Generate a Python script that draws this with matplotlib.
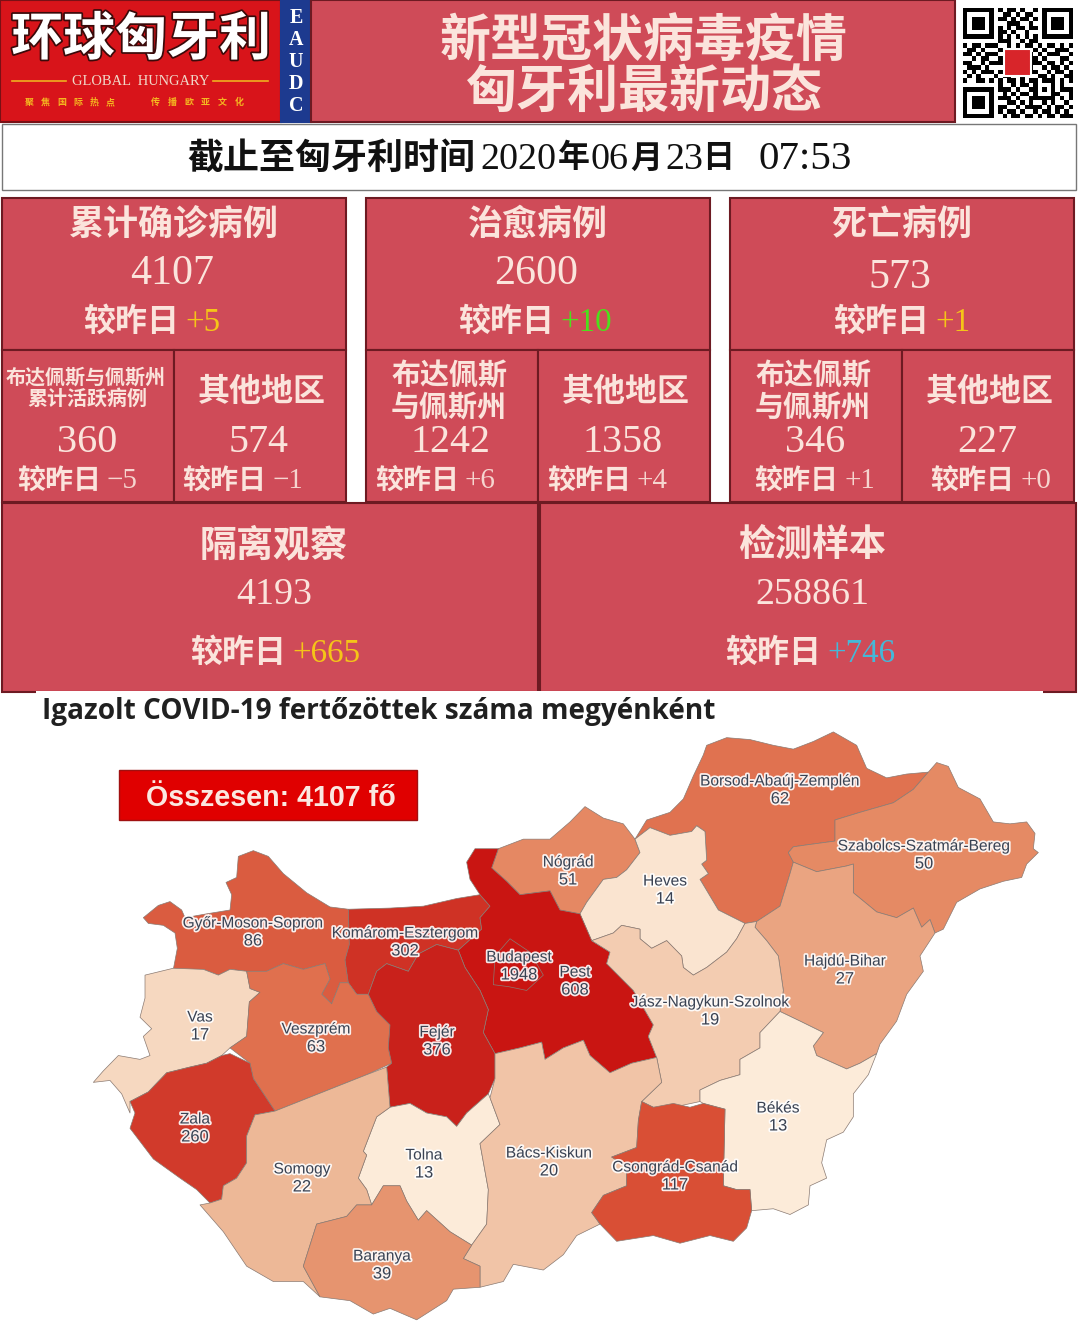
import numpy as np
import matplotlib
matplotlib.use("Agg")
import matplotlib.pyplot as plt
import matplotlib.patheffects as pe
from matplotlib.colors import LinearSegmentedColormap, LogNorm
from matplotlib.patches import Polygon, Rectangle

CJK = ["Noto Sans CJK SC", "DejaVu Sans"]
SERIF = "Liberation Serif"
plt.rcParams["font.family"] = CJK

# numbers on the panels
update_prefix = "截止至匈牙利时间"
update_time = ["2020", "06", "23", "07:53"]
top_titles = ["累计确诊病例", "治愈病例", "死亡病例"]
top_values = ["4107", "2600", "573"]
top_deltas = ["+5", "+10", "+1"]
sub_values = ["360", "574", "1242", "1358", "346", "227"]
sub_deltas = ["−5", "−1", "+6", "+4", "+1", "+0"]
low_titles = ["隔离观察", "检测样本"]
low_values = ["4193", "258861"]
low_deltas = ["+665", "+746"]

# county data
county_names = ["Borsod-Abaúj-Zemplén", "Szabolcs-Szatmár-Bereg", "Nógrád", "Heves",
                "Győr-Moson-Sopron", "Komárom-Esztergom", "Pest", "Budapest",
                "Hajdú-Bihar", "Jász-Nagykun-Szolnok", "Vas", "Veszprém", "Fejér",
                "Zala", "Békés", "Tolna", "Bács-Kiskun", "Somogy", "Csongrád-Csanád",
                "Baranya"]
county_cases = [62, 50, 51, 14, 86, 302, 608, 1948, 27, 19, 17, 63, 376, 260, 13, 13,
                20, 22, 117, 39]

# where the county labels sit (picture pixels)
label_x = [780, 924, 568, 665, 253, 405, 575, 519, 845, 710, 200, 316, 437, 195, 778, 424, 549, 302, 675, 382]
label_y = [779, 844, 860, 879, 921, 931, 970, 955, 959, 1000, 1015, 1027, 1030, 1117, 1106, 1153, 1151, 1167, 1165, 1254]


def z2(pts):
    # traced on the right hand crop, shift into the left crop's frame
    return [(x + 1410, y) for x, y in pts]


# county outlines
outlines = {
    "Győr-Moson-Sopron": [(160, 490), (205, 458), (240, 448), (275, 470), (285, 490), (350, 480), (420, 470), (425, 430), (408, 398), (440, 385), (445, 330), (490, 315), (535, 330), (580, 375), (650, 425), (720, 462), (775, 468), (778, 560), (765, 600), (775, 660), (750, 660), (725, 715), (695, 690), (720, 650), (705, 610), (640, 625), (580, 610), (530, 630), (470, 630), (420, 625), (385, 640), (340, 625), (250, 625), (262, 570), (255, 530), (220, 510), (175, 505)],
    "Vas": [(165, 640), (250, 622), (340, 625), (385, 640), (420, 625), (470, 630), (480, 675), (510, 685), (478, 710), (470, 800), (420, 830), (395, 850), (350, 870), (300, 880), (230, 895), (175, 945), (120, 970), (120, 1000), (95, 950), (60, 915), (10, 920), (40, 890), (85, 850), (150, 860), (180, 850), (160, 800), (185, 780), (150, 750), (165, 700)],
    "Zala": [(120, 970), (175, 945), (230, 895), (300, 880), (350, 870), (395, 850), (420, 845), (480, 870), (490, 910), (555, 995), (495, 1005), (470, 1060), (470, 1130), (440, 1170), (400, 1190), (395, 1225), (360, 1235), (320, 1200), (270, 1170), (190, 1120), (120, 1040), (135, 1000)],
    "Veszprém": [(470, 630), (530, 630), (580, 610), (640, 625), (705, 610), (720, 650), (695, 690), (725, 715), (750, 660), (775, 660), (800, 690), (835, 690), (860, 735), (900, 770), (895, 830), (905, 870), (830, 900), (555, 995), (490, 910), (480, 870), (420, 830), (470, 800), (478, 710), (510, 685), (480, 675)],
    "Komárom-Esztergom": [(775, 468), (900, 465), (1000, 460), (1100, 440), (1170, 430), (1200, 460), (1170, 490), (1175, 520), (1105, 575), (1040, 560), (985, 585), (955, 630), (890, 610), (860, 630), (835, 690), (800, 690), (775, 660), (765, 600), (778, 560)],
    "Fejér": [(835, 690), (860, 630), (890, 610), (955, 630), (985, 585), (1040, 560), (1105, 575), (1125, 620), (1170, 680), (1195, 730), (1180, 790), (1215, 845), (1215, 910), (1195, 950), (1130, 1000), (1100, 1035), (1070, 1010), (1010, 1000), (960, 975), (900, 985), (890, 880), (905, 870), (895, 830), (900, 770), (860, 735)],
    "Pest": [(1130, 345), (1155, 310), (1225, 310), (1205, 360), (1250, 395), (1290, 430), (1380, 420), (1410, 470), (1470, 480), (1505, 550), (1560, 580), (1550, 610), (1630, 680), (1690, 770), (1675, 800), (1700, 855), (1625, 870), (1560, 895), (1500, 850), (1480, 810), (1420, 830), (1365, 860), (1355, 815), (1290, 830), (1215, 845), (1180, 790), (1195, 730), (1170, 680), (1125, 620), (1105, 575), (1175, 520), (1170, 490), (1200, 460), (1170, 430), (1140, 390)],
    "Budapest": [(1210, 665), (1215, 590), (1260, 545), (1320, 580), (1360, 640), (1310, 680), (1255, 670)],
    "Nógrád": [(1225, 310), (1300, 285), (1380, 285), (1440, 240), (1485, 200), (1540, 230), (1600, 245), (1635, 285), (1650, 320), (1610, 365), (1580, 385), (1540, 390), (1490, 450), (1470, 480), (1410, 470), (1380, 420), (1290, 430), (1250, 395), (1205, 360)],
    "Heves": z2([(60, 480), (80, 450), (130, 390), (170, 385), (200, 365), (240, 320), (225, 285), (270, 255), (330, 275), (395, 265), (410, 250), (435, 265), (440, 340), (425, 350), (445, 375), (420, 390), (475, 470), (555, 505), (530, 545), (500, 580), (440, 620), (400, 640), (370, 620), (365, 590), (320, 550), (275, 570), (240, 545), (240, 520), (185, 510), (160, 530), (95, 550)]),
    "Borsod-Abaúj-Zemplén": z2([(225, 285), (260, 235), (330, 215), (370, 180), (400, 120), (430, 65), (440, 40), (500, 20), (570, 25), (640, 40), (700, 50), (760, 30), (820, 5), (890, 40), (920, 100), (980, 125), (1040, 115), (1105, 110), (1060, 155), (1000, 190), (900, 215), (825, 235), (825, 290), (740, 300), (700, 305), (685, 320), (700, 345), (690, 375), (660, 460), (590, 500), (555, 505), (475, 470), (420, 390), (445, 375), (425, 350), (440, 340), (435, 265), (410, 250), (395, 265), (330, 275), (270, 255)]),
    "Szabolcs-Szatmár-Bereg": z2([(1105, 110), (1130, 85), (1165, 95), (1195, 150), (1260, 180), (1300, 240), (1350, 245), (1400, 240), (1425, 270), (1420, 310), (1435, 320), (1400, 350), (1385, 385), (1330, 395), (1260, 415), (1190, 450), (1150, 520), (1125, 530), (1110, 495), (1085, 515), (1060, 465), (1010, 490), (950, 475), (880, 425), (880, 350), (860, 355), (770, 370), (700, 345), (685, 320), (700, 305), (740, 300), (825, 290), (825, 235), (900, 215), (1000, 190), (1060, 155)]),
    "Hajdú-Bihar": z2([(700, 345), (770, 370), (860, 355), (880, 350), (880, 425), (950, 475), (1010, 490), (1060, 465), (1085, 515), (1110, 495), (1125, 530), (1080, 590), (1090, 630), (1040, 690), (1010, 760), (960, 820), (950, 845), (900, 870), (860, 885), (770, 850), (760, 825), (790, 790), (720, 760), (660, 735), (670, 680), (655, 590), (620, 550), (585, 515), (590, 500), (660, 460), (690, 375)]),
    "Jász-Nagykun-Szolnok": z2([(95, 550), (160, 530), (185, 510), (240, 520), (240, 545), (275, 570), (320, 550), (365, 590), (370, 620), (400, 640), (440, 620), (500, 580), (530, 545), (555, 505), (590, 500), (585, 515), (620, 550), (655, 590), (670, 680), (660, 735), (600, 790), (600, 830), (540, 860), (540, 900), (480, 915), (420, 940), (420, 970), (340, 985), (280, 985), (245, 970), (305, 920), (290, 855), (265, 800), (280, 770), (220, 680), (140, 610), (150, 580)]),
    "Békés": z2([(420, 940), (480, 915), (540, 900), (540, 860), (600, 830), (600, 790), (660, 735), (720, 760), (790, 790), (760, 825), (770, 850), (860, 885), (900, 870), (950, 845), (925, 900), (880, 950), (880, 1010), (850, 1050), (800, 1070), (785, 1130), (800, 1170), (750, 1190), (745, 1240), (690, 1265), (640, 1250), (575, 1255), (570, 1200), (530, 1200), (490, 1190), (495, 990), (430, 975), (420, 970)]),
    "Csongrád-Csanád": z2([(245, 970), (280, 985), (340, 975), (390, 985), (430, 975), (495, 990), (490, 1190), (530, 1200), (570, 1200), (575, 1255), (560, 1300), (520, 1335), (450, 1320), (360, 1340), (280, 1320), (170, 1335), (120, 1290), (95, 1260), (130, 1215), (200, 1190), (200, 1140), (155, 1115), (230, 1090), (235, 1020)]),
    "Bács-Kiskun": [(1215, 845), (1290, 830), (1355, 815), (1365, 860), (1420, 830), (1480, 810), (1500, 850), (1560, 895), (1625, 870), (1700, 855), (1715, 920), (1655, 970), (1645, 1020), (1640, 1090), (1565, 1115), (1610, 1140), (1610, 1190), (1540, 1215), (1505, 1260), (1530, 1290), (1460, 1320), (1420, 1370), (1360, 1410), (1270, 1395), (1240, 1440), (1170, 1455), (1170, 1400), (1120, 1380), (1145, 1345), (1190, 1290), (1195, 1200), (1170, 1080), (1230, 1030), (1200, 960), (1215, 910)],
    "Tolna": [(860, 1010), (900, 985), (960, 975), (1010, 1000), (1070, 1010), (1100, 1035), (1130, 1000), (1195, 950), (1200, 960), (1230, 1030), (1170, 1080), (1195, 1200), (1190, 1290), (1145, 1345), (1080, 1310), (1010, 1255), (985, 1280), (950, 1230), (930, 1190), (880, 1190), (845, 1240), (830, 1200), (805, 1170), (830, 1110), (820, 1100)],
    "Baranya": [(845, 1240), (880, 1190), (930, 1190), (950, 1230), (985, 1280), (1010, 1255), (1080, 1310), (1145, 1345), (1120, 1380), (1170, 1400), (1170, 1455), (1090, 1460), (1070, 1490), (980, 1540), (900, 1510), (850, 1525), (780, 1490), (690, 1480), (640, 1400), (680, 1290), (770, 1270), (800, 1240)],
    "Somogy": [(555, 995), (830, 900), (890, 880), (900, 985), (860, 1010), (820, 1100), (830, 1110), (805, 1170), (830, 1200), (845, 1240), (800, 1240), (770, 1270), (680, 1290), (640, 1400), (690, 1480), (640, 1440), (550, 1440), (470, 1400), (400, 1310), (330, 1240), (360, 1235), (395, 1225), (400, 1190), (440, 1170), (470, 1130), (470, 1060), (495, 1005)],
}

# rough copy of the QR block
qr_rows = [
    "1111111010110100101111111",
    "1000001001101011001000001",
    "1011101011010110101011101",
    "1011101000111001001011101",
    "1011101010101101101011101",
    "1000001011010010001000001",
    "1111111010101010101111111",
    "0000000011100101100000000",
    "1011011100101011010110101",
    "0110100011011100101001110",
    "1101011101001111010111001",
    "0010110010111111101000110",
    "1100101110111111110110101",
    "0111010000111111001011010",
    "1010111011011111100101101",
    "0101000101100100011010011",
    "1001101010110101101110101",
    "0000000010010110100010100",
    "1111111011101001101010111",
    "1000001001010110100011001",
    "1011101011101001111110101",
    "1011101000110101001010010",
    "1011101011001011110101101",
    "1000001010110100101101010",
    "1111111001011011010110111",
]

panel_col = "#cf4b58"
edge_col = "#6d1a22"
text_col = "#fbe4dc"

fig = plt.figure(figsize=(10.8, 13.29), dpi=100)
ax = fig.add_axes([0, 0, 1, 1])


def px(n):
    # font size for n picture pixels
    return n * 72 / 100


def box(x0, y0, x1, y1, fc=panel_col, ec=edge_col, lw=1.5):
    ax.add_patch(Rectangle((x0, y0), x1 - x0, y1 - y0, fc=fc, ec=ec, lw=lw))


def cjk(x, y, s, size, color=text_col, ha="center", **kw):
    # the CJK face sits a little high when centred
    return ax.text(x, y + 2.5, s, fontsize=px(size), color=color, ha=ha, va="center",
                   family=CJK, weight="bold", **kw)


def num(x, y, s, size, color=text_col, ha="center", **kw):
    return ax.text(x, y + 3.5, s, fontsize=px(size), color=color, ha=ha, va="center",
                   family=SERIF, **kw)


def delta(split, y, s, size, color):
    cjk(split + 1, y, "较昨日", size, ha="right")
    num(split + 7, y, s, size + 1, color=color, ha="left")


# header
box(0, 0, 281, 122, fc="#d8141a", ec="#7a1015")
box(281, 0, 311, 122, fc="#1d3a8f", ec="#1d3a8f")
box(311, 0, 955, 122)
logo = cjk(141, 37, "环球匈牙利", 52, color="white")
logo.set_path_effects([pe.withStroke(linewidth=2.5, foreground="#3a0a0a")])
num(141, 78, "GLOBAL  HUNGARY", 14.5, color="#f0d8c8")
ax.plot([12, 66], [81, 81], color="#f0b020", lw=1.2)
ax.plot([213, 268], [81, 81], color="#f0b020", lw=1.2)
for i, c in enumerate("聚焦国际热点"):
    cjk(29 + i * 16.2, 100, c, 9, color="#f5b820")
for i, c in enumerate("传播欧亚文化"):
    cjk(155 + i * 16.8, 100, c, 9, color="#f5b820")
for i, c in enumerate("EAUDC"):
    ax.text(296, 18 + i * 22, c, fontsize=px(20), color="white", ha="center", va="center",
            family=SERIF, weight="bold")
cjk(644, 40, "新型冠状病毒疫情", 51)
cjk(644, 90, "匈牙利最新动态", 51)

qr = np.array([[int(c) for c in row] for row in qr_rows])
ax.imshow(1 - qr, cmap="gray", extent=(963, 1073, 118, 8), interpolation="nearest", aspect="auto")
ax.add_patch(Rectangle((1004, 49), 27, 27, fc="#d8252a", ec="white", lw=1.5))

# date row
box(2, 124, 1076, 190, fc="white", ec="#777777", lw=1)
cjk(475, 156, update_prefix, 36, color="#111111", ha="right")
num(480, 156, update_time[0], 38, color="#111111", ha="left")
cjk(574, 156, "年", 32, color="#111111")
num(591, 156, update_time[1], 38, color="#111111", ha="left")
cjk(646, 156, "月", 32, color="#111111")
num(665, 156, update_time[2], 38, color="#111111", ha="left")
cjk(718, 156, "日", 32, color="#111111")
num(759, 156, update_time[3], 41, color="#111111", ha="left")

# top row
top_x = [(2, 346), (366, 710), (730, 1074)]
top_splits = [178, 553, 928]
top_colors = ["#f5c518", "#4ce01c", "#f5c518"]
for i, (x0, x1) in enumerate(top_x):
    box(x0, 198, x1, 350)
    mid = (x0 + x1) / 2
    cjk(mid, 222, top_titles[i], 35)
    num(mid - 2, 270 if i < 2 else 274, top_values[i], 42)
    delta(top_splits[i], 319, top_deltas[i], 32, top_colors[i])

# second row
sub_x = [(2, 174), (174, 346), (366, 538), (538, 710), (730, 902), (902, 1074)]
sub_splits = [100, 265, 458, 630, 837, 1013]
for i, (x0, x1) in enumerate(sub_x):
    box(x0, 350, x1, 502)
    mid = (x0 + x1) / 2
    if i == 0:
        cjk(mid - 2, 375, "布达佩斯与佩斯州", 20)
        cjk(mid - 1, 396, "累计活跃病例", 20)
    elif i % 2 == 0:
        cjk(mid - 2, 373, "布达佩斯", 29)
        cjk(mid - 3, 405, "与佩斯州", 29)
    else:
        cjk(mid + 2, 390, "其他地区", 32)
    num(mid - 1, 439, sub_values[i], 40)
    delta(sub_splits[i], 478, sub_deltas[i], 28, "#f6d5cf")

# third row
low_x = [(2, 538), (540, 1076)]
low_splits = [285, 820]
low_colors = ["#f5c518", "#45b8d8"]
for i, (x0, x1) in enumerate(low_x):
    box(x0, 503, x1, 692)
    mid = (x0 + x1) / 2
    cjk(mid + 4, 543, low_titles[i], 37)
    num(mid + 4, 591, low_values[i], 38)
    delta(low_splits[i], 650, low_deltas[i], 32, low_colors[i])

# map part
ax.add_patch(Rectangle((36, 691), 1007, 638, fc="white", ec="none"))
ax.text(42, 711, "Igazolt COVID-19 fertőzöttek száma megyénként", fontsize=px(28),
        color="#202020", ha="left", va="center", family="Open Sans", weight="bold")
ax.add_patch(Rectangle((119, 770), 298, 50, fc="#e00000", ec="#a01010", lw=1))
ax.text(271, 798, "Összesen: 4107 fő", fontsize=px(28.6), color="#fbe8e0", ha="center",
        va="center", family="Liberation Sans", weight="bold")

# colour scale, log spaced in cases
scale_cases = [13, 14, 17, 19, 22, 27, 39, 50, 63, 86, 117, 260, 302, 376, 608, 1948]
scale_cols = ["#fcebd9", "#fae3cf", "#f6d8c0", "#f3cbb0", "#edb796", "#eaa380", "#e6946f",
              "#e58a64", "#e0704e", "#da5c40", "#d94f35", "#d13a2b", "#cf3225", "#c9211b",
              "#c91512", "#c91512"]
norm = LogNorm(vmin=13, vmax=1948)
cmap = LinearSegmentedColormap.from_list("cases", list(zip(norm(scale_cases).tolist(), scale_cols)), N=512)

for name, cases in zip(county_names, county_cases):
    pts = np.array(outlines[name], dtype=float)
    pts[:, 0] = 90 + pts[:, 0] / 3
    pts[:, 1] = 730 + pts[:, 1] * 0.383
    ax.add_patch(Polygon(pts, closed=True, fc=cmap(norm(cases)), ec="#8a7a72", lw=0.5, joinstyle="round"))

halo = [pe.withStroke(linewidth=2.5, foreground="white", alpha=0.9)]
for name, cases, x, y in zip(county_names, county_cases, label_x, label_y):
    ax.text(x, y + 2, name, fontsize=px(15.5), color="#3a4252", ha="center", va="center",
            family="Liberation Sans", path_effects=halo)
    ax.text(x, y + 20, str(cases), fontsize=px(16.5), color="#3a4252", ha="center", va="center",
            family="Liberation Sans", path_effects=halo)

ax.set_xlim(0, 1080)
ax.set_ylim(1329, 0)
ax.axis("off")
fig.savefig("out.png", dpi=100, facecolor="white")
